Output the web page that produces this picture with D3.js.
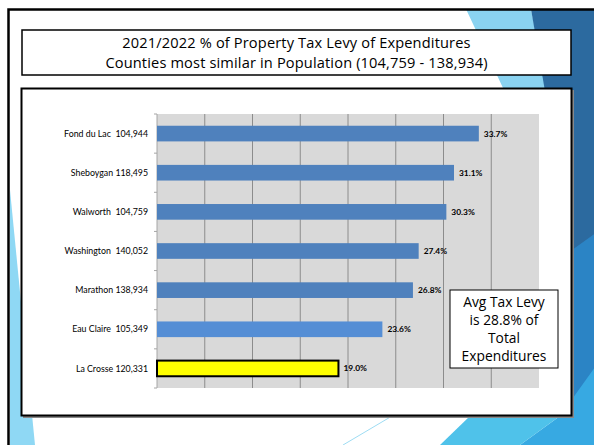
<!DOCTYPE html>
<html lang="en">
<head>
<meta charset="UTF-8">
<title>Property Tax Levy of Expenditures</title>
<style>
  body { margin: 0; background: #fff; }
  svg { display: block; }
  .cat { font-family: Lato, "Open Sans", sans-serif; font-size: 8.8px; fill: #000; text-anchor: end; white-space: pre; }
  .val { font-family: Lato, "Open Sans", sans-serif; font-size: 8.4px; font-weight: bold; fill: #000; }
  .title { font-family: "Open Sans", sans-serif; font-size: 14.6px; letter-spacing: 0.15px; fill: #000; text-anchor: middle; }
  .note { font-family: "Open Sans", sans-serif; font-size: 13.8px; fill: #000; text-anchor: middle; }
</style>
</head>
<body>
<script src="https://d3js.org/d3.v7.min.js"></script>
<script>
const counties = ["Fond du Lac  104,944", "Sheboygan 118,495", "Walworth  104,759", "Washington  140,052",
                  "Marathon 138,934", "Eau Claire  105,349", "La Crosse 120,331"];
const levyPct = [33.7, 31.1, 30.3, 27.4, 26.8, 23.6, 19.0];
const barColors = ["#4F81BD", "#4F81BD", "#4F81BD", "#4F81BD", "#4F81BD", "#558ED5", "#FFFF00"];
const xTicks = [0, 5, 10, 15, 20, 25, 30, 35, 40];
const titleLines = ["2021/2022 % of Property Tax Levy of Expenditures",
                    "Counties most similar in Population (104,759 - 138,934)"];
const noteLines = ["Avg Tax Levy", "is 28.8% of", "Total", "Expenditures"];

const W = 594, H = 445;
const svg = d3.select("body").append("svg").attr("width", W).attr("height", H);

// slide theme decoration
const deco = svg.append("g");
const shapes = [
  { c: "#8AD3F1", p: [[466, 9], [531, 9], [575, 235], [503, 88]] },
  { c: "#2C6A9F", p: [[531, 9], [600, 9], [600, 330], [572, 250]] },
  { c: "#2B84C5", p: [[572, 250], [600, 230], [600, 445], [560, 445]] },
  { c: "#37A9E2", p: [[600, 360], [600, 445], [520, 445], [560, 416]] },
  { c: "#4FC2EA", p: [[440, 445], [470, 416], [560, 416], [520, 445]] },
  { c: "#8FD8F4", p: [[10, 190], [10, 445], [35, 445]] }
];
deco.selectAll("polygon").data(shapes).join("polygon")
  .attr("points", d => d.p.join(" "))
  .attr("fill", d => d.c);
deco.append("line").attr("x1", 343).attr("y1", 445).attr("x2", 392).attr("y2", 416)
  .attr("stroke", "#9EDCF3").attr("stroke-width", 1);

// slide border
svg.append("rect").attr("x", 8.5).attr("y", 9.5).attr("width", 620).attr("height", 460)
  .attr("fill", "none").attr("stroke", "#000").attr("stroke-width", 2.5);

// title box
svg.append("rect").attr("x", 22).attr("y", 30).attr("width", 549).attr("height", 45)
  .attr("fill", "#fff").attr("stroke", "#000").attr("stroke-width", 1.5);
svg.selectAll(".title").data(titleLines).join("text")
  .attr("class", "title")
  .attr("x", 296.5)
  .attr("y", (d, i) => 48 + i * 20)
  .text(d => d);

// chart box with shadow
svg.append("rect").attr("x", 23).attr("y", 90).attr("width", 551).attr("height", 328)
  .attr("fill", "#888");
svg.append("rect").attr("x", 21.5).attr("y", 88.5).attr("width", 550).attr("height", 327)
  .attr("fill", "#fff").attr("stroke", "#000").attr("stroke-width", 2);

// plot
const plot = { left: 157, right: 539, top: 114, bottom: 388 };
const x = d3.scaleLinear().domain([0, 40]).range([plot.left, plot.right]);
const y = d3.scaleBand().domain(counties).range([plot.top, plot.bottom])
  .paddingInner(0.6).paddingOuter(0.3);

svg.append("rect").attr("x", plot.left).attr("y", plot.top)
  .attr("width", plot.right - plot.left).attr("height", plot.bottom - plot.top)
  .attr("fill", "#D9D9D9");

svg.selectAll(".grid").data(xTicks.slice(1, -1)).join("line")
  .attr("class", "grid")
  .attr("x1", d => x(d)).attr("x2", d => x(d))
  .attr("y1", plot.top).attr("y2", plot.bottom)
  .attr("stroke", "#8C8C8C").attr("stroke-width", 1);

// category axis with tick marks between categories
const step = y.step();
const tickYs = d3.range(counties.length + 1).map(i => plot.top + i * step);
svg.append("line").attr("x1", plot.left).attr("x2", plot.left)
  .attr("y1", plot.top).attr("y2", plot.bottom)
  .attr("stroke", "#A6A6A6");
svg.selectAll(".ytick").data(tickYs).join("line")
  .attr("class", "ytick")
  .attr("x1", plot.left - 3).attr("x2", plot.left)
  .attr("y1", d => d).attr("y2", d => d)
  .attr("stroke", "#A6A6A6");

svg.selectAll(".bar").data(levyPct).join("rect")
  .attr("class", "bar")
  .attr("x", x(0))
  .attr("y", (d, i) => y(counties[i]))
  .attr("width", d => x(d) - x(0))
  .attr("height", y.bandwidth())
  .attr("fill", (d, i) => barColors[i])
  .attr("stroke", (d, i) => i === counties.length - 1 ? "#000" : "none")
  .attr("stroke-width", 2);

svg.selectAll(".cat").data(counties).join("text")
  .attr("class", "cat")
  .attr("x", 148)
  .attr("y", d => y(d) + y.bandwidth() / 2)
  .attr("dy", "0.35em")
  .text(d => d);

svg.selectAll(".val").data(levyPct).join("text")
  .attr("class", "val")
  .attr("x", d => x(d) + 5)
  .attr("y", (d, i) => y(counties[i]) + y.bandwidth() / 2)
  .attr("dy", "0.35em")
  .text(d => d.toFixed(1) + "%");

// note box
svg.append("rect").attr("x", 450).attr("y", 290).attr("width", 108).attr("height", 78)
  .attr("fill", "#fff").attr("stroke", "#000").attr("stroke-width", 1);
svg.selectAll(".note").data(noteLines).join("text")
  .attr("class", "note")
  .attr("x", 504)
  .attr("y", (d, i) => 307 + i * 18)
  .text(d => d);
</script>
</body>
</html>
